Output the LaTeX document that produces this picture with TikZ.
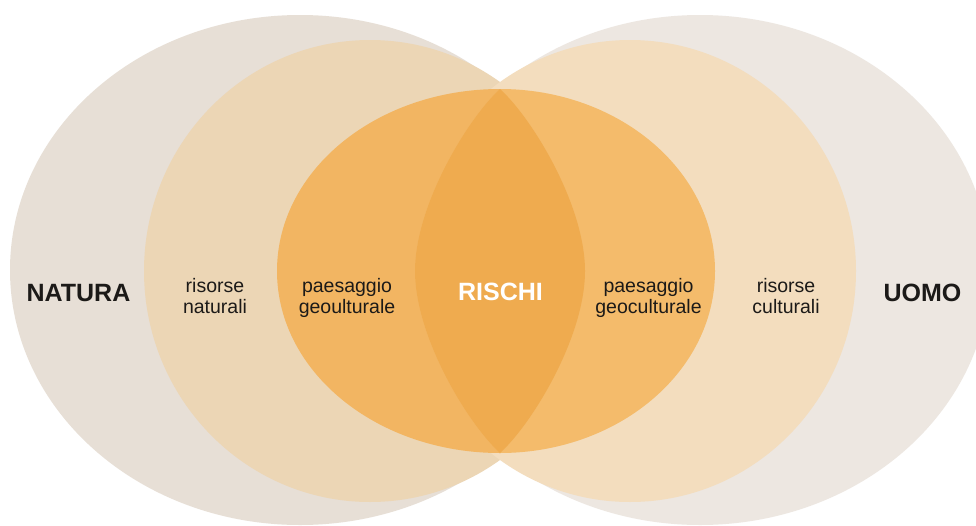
\documentclass[tikz,border=0pt]{standalone}
\usepackage{fontspec}
\setmainfont{Liberation Sans}
\usepackage{xcolor}
\usepackage{tikz}
\definecolor{NaturaGrey}{RGB}{231,223,214}
\definecolor{UomoGrey}{RGB}{237,231,225}
\definecolor{NaturaTan}{RGB}{236,214,181}
\definecolor{UomoTan}{RGB}{243,221,190}
\definecolor{GeoOrange}{RGB}{242,181,98}
\definecolor{CultOrange}{RGB}{244,187,107}
\definecolor{RischiOrange}{RGB}{239,171,79}
\definecolor{InkDark}{RGB}{28,26,24}

\begin{document}
\begin{tikzpicture}[x=1pt, y=-1pt,
		bigtxt/.style={font=\fontsize{25}{27}\selectfont\bfseries, text=InkDark, inner sep=0pt},
		smalltxt/.style={font=\fontsize{19.5}{20.5}\selectfont, text=InkDark, align=center, inner sep=0pt}]
		\clip (0,0) rectangle (976,525);
		\fill[white] (0,0) rectangle (976,525);
		% 外圈
		\fill[NaturaGrey] (300,270) ellipse (290 and 255);
		\fill[UomoGrey] (700,270) ellipse (290 and 255);
		% 中圈
		\fill[NaturaTan] (370,271) ellipse (226 and 231);
		\fill[UomoTan] (630,271) ellipse (226 and 231);
		% 内圈
		\fill[GeoOrange] (500,89) .. controls (377,89) and (277,170) .. (277,271)
			.. controls (277,372) and (377,453) .. (500,453)
			.. controls (532,424) and (585,337) .. (585,271)
			.. controls (585,205) and (532,118) .. (500,89) -- cycle;
		\fill[CultOrange] (500,89) .. controls (618,89) and (715,170) .. (715,271)
			.. controls (715,372) and (618,453) .. (500,453)
			.. controls (468,424) and (415,337) .. (415,271)
			.. controls (415,205) and (468,118) .. (500,89) -- cycle;
		% 交集
		\begin{scope}
			\clip (500,89) .. controls (377,89) and (277,170) .. (277,271)
				.. controls (277,372) and (377,453) .. (500,453)
				.. controls (532,424) and (585,337) .. (585,271)
				.. controls (585,205) and (532,118) .. (500,89) -- cycle;
			\fill[RischiOrange] (500,89) .. controls (618,89) and (715,170) .. (715,271)
				.. controls (715,372) and (618,453) .. (500,453)
				.. controls (468,424) and (415,337) .. (415,271)
				.. controls (415,205) and (468,118) .. (500,89) -- cycle;
		\end{scope}
		% 文字
		\node[bigtxt] (natura) at (78.5,293) {NATURA};
		\node[smalltxt] (risnat) at (215,296) {risorse\\naturali};
		\node[smalltxt] (paesgeo) at (347,298) {paesaggio\\geoulturale};
		\node[bigtxt, text=white] (rischi) at (500.5,292) {RISCHI};
		\node[smalltxt] (paescult) at (648.5,298) {paesaggio\\geoculturale};
		\node[smalltxt] (riscult) at (786,296) {risorse\\culturali};
		\node[bigtxt] (uomo) at (922.5,293) {UOMO};
	\end{tikzpicture}
\end{document}
